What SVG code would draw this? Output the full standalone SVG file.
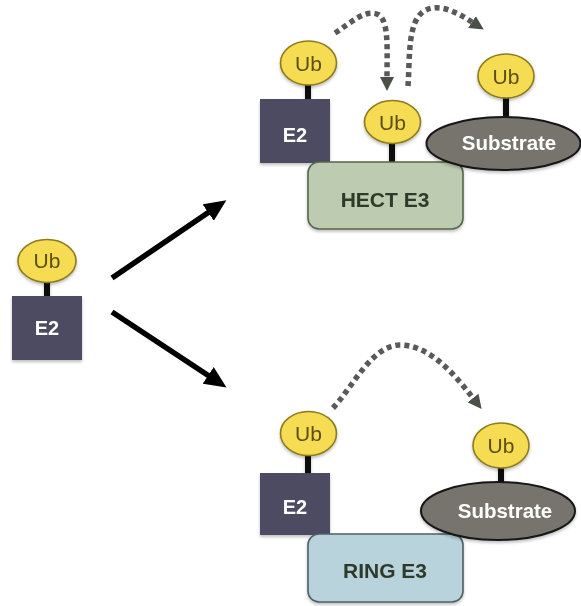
<svg xmlns="http://www.w3.org/2000/svg" width="581" height="606" viewBox="0 0 581 606">
<style>
.ub{fill:#f6dc52;stroke:#8c7b1e;stroke-width:1.6}
.ubt{font-family:"Liberation Sans",Arial,sans-serif;font-size:21px;fill:#5b4f12;text-anchor:middle}
.e2{fill:#4d4b62}
.wt{font-family:"Liberation Sans",Arial,sans-serif;font-weight:bold;fill:#ffffff;text-anchor:middle}
.stick{stroke:#111;stroke-width:6}
.sub{fill:#77736d;stroke:#151515;stroke-width:2}
.hect{fill:#bdcbb0;stroke:#57664b;stroke-width:1.6}
.ring{fill:#b9d3dc;stroke:#4f5f62;stroke-width:1.6}
.e3t{font-family:"Liberation Sans",Arial,sans-serif;font-weight:bold;font-size:21px;fill:#2e3a2c;text-anchor:middle}
.dash{fill:none;stroke:#595959;stroke-width:5.5;stroke-dasharray:5 4}
.solid{fill:none;stroke:#000;stroke-width:5.5}
</style>
<defs>
<filter id="sh" x="-20%" y="-20%" width="140%" height="150%">
<feDropShadow dx="0" dy="2" stdDeviation="1.5" flood-color="#000" flood-opacity="0.25"/>
</filter>
<marker id="dh" viewBox="0 0 14 14" refX="0" refY="7" markerWidth="14" markerHeight="14" orient="auto" markerUnits="userSpaceOnUse">
<path d="M0,0 L14,7 L0,14 z" fill="#4a4f48"/>
</marker>
<marker id="bh" viewBox="0 0 22 20" refX="1" refY="10" markerWidth="22" markerHeight="20" orient="auto" markerUnits="userSpaceOnUse">
<path d="M0,0 L22,10 L0,20 z" fill="#000"/>
</marker>
</defs>

<g id="connectors">
<path class="solid" d="M112,278 L209,212" marker-end="url(#bh)"/>
<path class="solid" d="M112,312 L209,376" marker-end="url(#bh)"/>
<path class="dash" d="M335,33 C352,22 366,8 379,15 C389,22 387,50 387,77" marker-end="url(#dh)"/>
<path class="dash" d="M408,86 C410,60 407,22 424,11 C438,3 455,11 472,22" marker-end="url(#dh)"/>
<path class="dash" d="M333,408 C352,388 372,345 400,345 C430,345 455,375 473,398" marker-end="url(#dh)"/>
</g>

<g id="left-e2" filter="url(#sh)">
<line class="stick" x1="47" y1="280" x2="47" y2="297"/>
<rect class="e2" x="12" y="296" width="70" height="64"/>
<text class="wt" x="47" y="335" font-size="20">E2</text>
</g>
<g id="left-ub" filter="url(#sh)">
<ellipse class="ub" cx="47" cy="261" rx="29" ry="21.5"/>
<text class="ubt" x="47" y="268">Ub</text>
</g>

<g id="hect-e2" filter="url(#sh)">
<line class="stick" x1="308" y1="82" x2="308" y2="100"/>
<rect class="e2" x="260" y="99" width="70" height="64"/>
<text class="wt" x="295" y="142" font-size="20">E2</text>
</g>
<g id="hect-e2-ub" filter="url(#sh)">
<ellipse class="ub" cx="308.5" cy="63" rx="28" ry="22"/>
<text class="ubt" x="308.5" y="70.5">Ub</text>
</g>
<g id="hect-e3" filter="url(#sh)">
<line class="stick" x1="392" y1="140" x2="392" y2="163"/>
<rect class="hect" x="308" y="162" width="155" height="67" rx="11"/>
<text class="e3t" x="385" y="207">HECT E3</text>
</g>
<g id="hect-ub" filter="url(#sh)">
<ellipse class="ub" cx="392.5" cy="122" rx="28" ry="21.5"/>
<text class="ubt" x="392.5" y="129.5">Ub</text>
</g>
<g id="hect-substrate" filter="url(#sh)">
<line class="stick" x1="506" y1="95" x2="506" y2="118"/>
<ellipse class="sub" cx="503.5" cy="143.5" rx="77" ry="26.5"/>
<text class="wt" x="509" y="150" font-size="20.5">Substrate</text>
</g>
<g id="hect-sub-ub" filter="url(#sh)">
<ellipse class="ub" cx="506" cy="76" rx="28" ry="22"/>
<text class="ubt" x="506" y="83.5">Ub</text>
</g>

<g id="ring-e2" filter="url(#sh)">
<line class="stick" x1="308" y1="452" x2="308" y2="474"/>
<rect class="e2" x="260" y="473" width="70" height="62"/>
<text class="wt" x="295" y="514" font-size="20">E2</text>
</g>
<g id="ring-e2-ub" filter="url(#sh)">
<ellipse class="ub" cx="308.5" cy="433.5" rx="28" ry="22"/>
<text class="ubt" x="308.5" y="441">Ub</text>
</g>
<g id="ring-e3" filter="url(#sh)">
<rect class="ring" x="308" y="534" width="155" height="68" rx="11"/>
<text class="e3t" x="385" y="578">RING E3</text>
</g>
<g id="ring-substrate" filter="url(#sh)">
<line class="stick" x1="501" y1="465" x2="501" y2="483"/>
<ellipse class="sub" cx="498" cy="511" rx="77" ry="29"/>
<text class="wt" x="505" y="518" font-size="20.5">Substrate</text>
</g>
<g id="ring-sub-ub" filter="url(#sh)">
<ellipse class="ub" cx="501" cy="445.5" rx="28" ry="22.5"/>
<text class="ubt" x="501" y="453">Ub</text>
</g>
</svg>
